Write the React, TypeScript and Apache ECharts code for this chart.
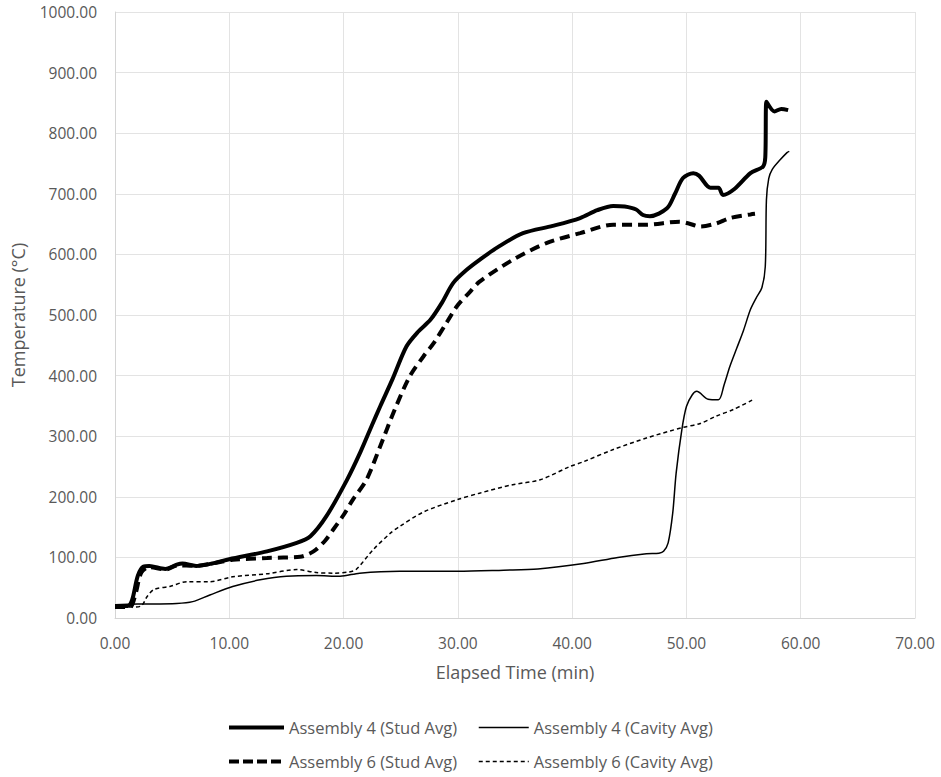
import React, { useEffect, useRef } from "react";
import * as echarts from "echarts";

const xTicks = [0, 10, 20, 30, 40, 50, 60, 70];
const yTicks = [0, 100, 200, 300, 400, 500, 600, 700, 800, 900, 1000];

const seriesNames = [
  "Assembly 4 (Stud Avg)",
  "Assembly 4 (Cavity Avg)",
  "Assembly 6 (Stud Avg)",
  "Assembly 6 (Cavity Avg)",
];

const a4Stud: [number, number][] = [
  [0, 20], [1.1, 20], [1.5, 30], [2.0, 70], [2.5, 85], [3.0, 86], [4.4, 81], [5.4, 88], [5.9, 90],
  [7.1, 86], [8.5, 90], [10, 97], [13.3, 110], [15.9, 124], [17.1, 135], [18.5, 168], [20.3, 228],
  [21.5, 275], [22.5, 319], [23.2, 349], [24.3, 395], [25.5, 448], [26.5, 472], [27.6, 492],
  [28.6, 520], [29.6, 553], [30.8, 575], [31.9, 591], [33.5, 612], [35.7, 635], [38.3, 647],
  [40.7, 660], [42.2, 673], [43.6, 680], [44.6, 679], [45.6, 674], [46.2, 665], [46.8, 663],
  [48.3, 676], [49.0, 700], [49.7, 726], [50.6, 734], [51.1, 730], [52.1, 710], [52.8, 710],
  [53.2, 698], [54.2, 708], [55.6, 734], [56.7, 745], [56.9, 760], [57.0, 852], [57.7, 836],
  [58.3, 840], [58.9, 838],
];

const a4Cavity: [number, number][] = [
  [0, 22], [2, 23], [5.4, 24], [6.8, 27], [8.3, 38], [10.3, 52], [12.7, 63], [15, 69], [17.6, 70],
  [19.7, 69], [21.4, 74], [24.9, 77], [30, 77], [34, 79], [37, 81], [41, 90], [44, 100], [46.5, 106],
  [47.6, 107], [48, 110], [48.4, 124], [48.8, 173], [49.1, 239], [49.6, 311], [50, 349], [50.5, 368],
  [50.9, 374], [51.9, 361], [52.8, 360], [53.3, 385], [53.8, 415], [54.4, 445], [55.0, 475],
  [55.6, 509], [56.1, 528], [56.6, 545], [56.9, 580], [57.0, 690], [57.2, 725], [57.5, 740],
  [58.2, 756], [58.8, 768], [59, 770],
];

const a6Stud: [number, number][] = [
  [0, 18], [1.3, 18], [1.8, 40], [2.3, 75], [3.0, 84], [4.4, 80], [5.5, 87], [7.0, 86], [8.5, 90],
  [10.3, 96], [13.3, 99], [16.2, 101], [17.0, 106], [17.6, 113], [18.4, 128], [19.1, 146],
  [20.0, 170], [20.8, 195], [22, 228], [23.2, 283], [24.5, 345], [25.8, 399], [27, 432],
  [27.9, 454], [29, 487], [29.9, 514], [31, 537], [31.9, 555], [34.8, 591], [37.8, 619],
  [40.7, 635], [43.6, 649], [46.5, 649], [49.4, 654], [50.2, 651], [51.2, 646], [52.6, 651],
  [53.8, 660], [55.6, 666], [56, 667],
];

const a6Cavity: [number, number][] = [
  [0, 18], [1.5, 18], [2.3, 20], [2.8, 35], [3.4, 47], [4.8, 52], [6.3, 60], [8.3, 60], [10.3, 68],
  [13.3, 73], [15.9, 80], [17.6, 75], [19.1, 74], [20.5, 76], [21.1, 80], [22.6, 113], [24.1, 140],
  [24.9, 151], [27, 175], [29.9, 195], [31.9, 206], [34.8, 220], [37.2, 228], [39.8, 250],
  [41, 258], [43.6, 278], [46.5, 297], [49.6, 314], [51.2, 321], [52.6, 333], [54.1, 344],
  [55.8, 360],
];

const FONT = "'Open Sans', sans-serif";
const TEXT = "#595959";

export default function App() {
  const ref = useRef<HTMLDivElement>(null);
  useEffect(() => {
    if (!ref.current) return;
    const chart = echarts.init(ref.current, undefined, { renderer: "svg" });
    const legendText = { color: TEXT, fontSize: 16.5, fontFamily: FONT };
    const mkLegend = (name: string, left: number, top: number, width: number, type: any, iw: number) => ({
      data: [name],
      left,
      top,
      orient: "horizontal",
      itemWidth: iw,
      itemHeight: 14,
      itemGap: 0,
      textStyle: legendText,
      selectedMode: false,
      itemStyle: { opacity: 0, borderWidth: 0 },
      lineStyle: { width, type, color: "#000000", opacity: 1 },
    });
    const mkSeries = (name: string, data: [number, number][], width: number, type: any) => ({
      name,
      type: "line",
      data,
      showSymbol: false,
      symbol: "none",
      smooth: 0.3,
      lineStyle: { color: "#000000", width, type },
      itemStyle: { color: "#000000" },
    });
    chart.setOption({
      animation: false,
      backgroundColor: "#ffffff",
      textStyle: { fontFamily: FONT },
      grid: { left: 115, top: 12, width: 800, height: 606 },
      legend: [
        mkLegend(seriesNames[0], 222, 714, 4, "solid", 55),
        mkLegend(seriesNames[1], 473, 714, 1.5, "solid", 50),
        mkLegend(seriesNames[2], 222, 748, 4, [10, 4], 55),
        mkLegend(seriesNames[3], 473, 748, 1.5, [4, 3], 50),
      ],
      xAxis: {
        type: "value",
        min: xTicks[0],
        max: xTicks[xTicks.length - 1],
        interval: 10,
        name: "Elapsed Time (min)",
        nameLocation: "middle",
        nameGap: 45,
        nameTextStyle: { color: TEXT, fontSize: 18, fontFamily: FONT },
        axisLine: { show: true, lineStyle: { color: "#d4d4d4", width: 1 } },
        axisTick: { show: false },
        axisLabel: {
          color: TEXT,
          fontSize: 15.5,
          fontFamily: FONT,
          margin: 17,
          formatter: (v: number) => v.toFixed(2),
        },
        splitLine: { show: true, lineStyle: { color: "#e3e3e3", width: 1 } },
      },
      yAxis: {
        type: "value",
        min: yTicks[0],
        max: yTicks[yTicks.length - 1],
        interval: 100,
        name: "Temperature (°C)",
        nameLocation: "middle",
        nameRotate: 90,
        nameGap: 88,
        nameTextStyle: { color: TEXT, fontSize: 18, fontFamily: FONT },
        axisLine: { show: true, lineStyle: { color: "#d4d4d4", width: 1 } },
        axisTick: { show: false },
        axisLabel: {
          color: TEXT,
          fontSize: 15.5,
          fontFamily: FONT,
          margin: 18,
          formatter: (v: number) => v.toFixed(2),
        },
        splitLine: { show: true, lineStyle: { color: "#e3e3e3", width: 1 } },
      },
      series: [
        mkSeries(seriesNames[0], a4Stud, 4, "solid"),
        mkSeries(seriesNames[1], a4Cavity, 1.5, "solid"),
        mkSeries(seriesNames[2], a6Stud, 4, [10, 6]),
        mkSeries(seriesNames[3], a6Cavity, 1.5, [4, 3]),
      ],
    });
    return () => chart.dispose();
  }, []);
  return <div ref={ref} style={{ width: 941, height: 777, position: "absolute", left: 0, top: 0 }} />;
}
